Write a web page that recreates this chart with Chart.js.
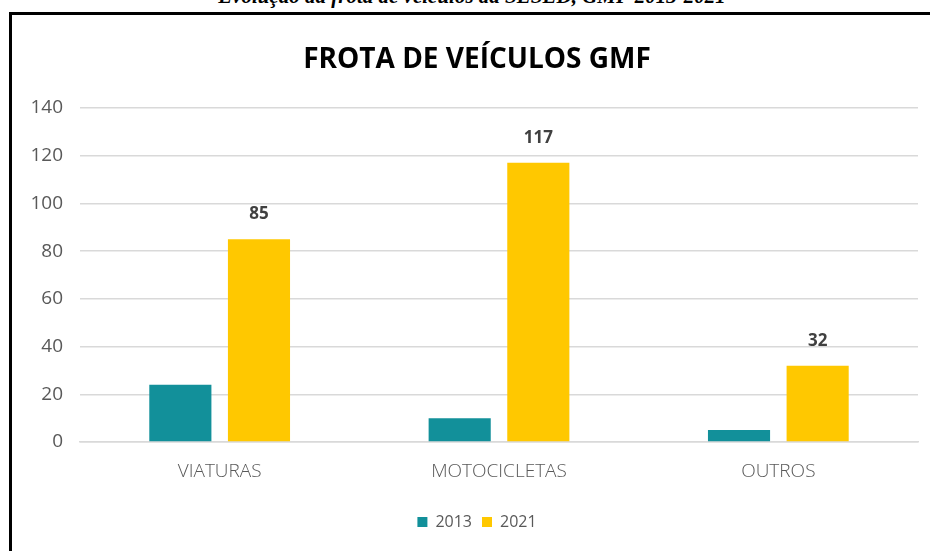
<!DOCTYPE html>
<html>
<head>
<meta charset="utf-8">
<script src="https://cdn.jsdelivr.net/npm/chart.js@4.4.1/dist/chart.umd.min.js"></script>
<style>
  html, body { margin: 0; padding: 0; background: #ffffff; width: 930px; height: 551px; overflow: hidden; }
  #caption { position: absolute; left: 0; width: 944px; top: -16px; text-align: center;
    font-family: "Liberation Serif", "DejaVu Serif", serif; font-weight: bold; font-style: italic;
    font-size: 21px; color: #000; line-height: 24px; white-space: nowrap; }
  #frame { position: absolute; left: 9px; top: 12px; width: 940px; height: 560px;
    border-top: 3px solid #000; border-left: 3px solid #000; box-sizing: border-box; }
  #wrap { position: absolute; left: 0; top: 0; width: 930px; height: 551px; }
</style>
</head>
<body>
<div id="caption">Evolução da frota de veículos da SESED, GMF 2013-2021</div>
<div id="frame"></div>
<div id="wrap"><canvas id="c" width="930" height="551"></canvas></div>
<script>
const chartTitle = "FROTA DE VEÍCULOS GMF";
const categories = ["VIATURAS", "MOTOCICLETAS", "OUTROS"];
const seriesNames = ["2013", "2021"];
const values2013 = [24, 10, 5];
const values2021 = [85, 117, 32];
const yTicks = [0, 20, 40, 60, 80, 100, 120, 140];
const labeledSeries = [false, true];

const TEAL = "#12909A";
const GOLD = "#FFC800";

const valueLabels = {
  id: "valueLabels",
  afterDatasetsDraw(chart) {
    const ctx = chart.ctx;
    ctx.save();
    ctx.font = "bold 17px 'Open Sans', sans-serif";
    ctx.fillStyle = "#404040";
    ctx.textAlign = "center";
    ctx.textBaseline = "middle";
    chart.data.datasets.forEach((ds, i) => {
      if (!labeledSeries[i]) return;
      const meta = chart.getDatasetMeta(i);
      meta.data.forEach((bar, j) => {
        ctx.fillText(String(ds.data[j]), bar.x, bar.y - 25);
      });
    });
    ctx.restore();
  }
};

new Chart(document.getElementById("c"), {
  type: "bar",
  data: {
    labels: categories,
    datasets: [
      { label: seriesNames[0], data: values2013, backgroundColor: TEAL, borderWidth: 0,
        barPercentage: 0.79, categoryPercentage: 0.563 },
      { label: seriesNames[1], data: values2021, backgroundColor: GOLD, borderWidth: 0,
        barPercentage: 0.79, categoryPercentage: 0.563 }
    ]
  },
  options: {
    responsive: false,
    animation: false,
    devicePixelRatio: 1,
    layout: { padding: { left: 36, right: 12, top: 0, bottom: 11 } },
    plugins: {
      title: {
        display: true,
        text: chartTitle,
        color: "#000000",
        font: { family: "'Open Sans', sans-serif", size: 28, weight: "bold", lineHeight: 1.2 },
        padding: { top: 43, bottom: 31.4 }
      },
      legend: {
        display: true,
        position: "bottom",
        labels: {
          boxWidth: 10, boxHeight: 10, padding: 10,
          color: "#595959",
          font: { family: "'Open Sans', sans-serif", size: 16 }
        }
      },
      tooltip: { enabled: false }
    },
    scales: {
      x: {
        grid: { display: false, drawTicks: false },
        border: { display: true, color: "#d9d9d9", width: 1.5 },
        ticks: { color: "#595959", font: { family: "'Open Sans', sans-serif", size: 19, weight: "300" }, padding: 18 },
        afterFit(scale) { scale.height = 62; }
      },
      y: {
        min: 0, max: 140,
        afterBuildTicks(scale) { scale.ticks = yTicks.map(v => ({ value: v })); },
        grid: { color: "#d9d9d9", lineWidth: 1.5, drawTicks: false },
        border: { display: false },
        ticks: { color: "#595959", font: { family: "'Open Sans', sans-serif", size: 19 }, padding: 17 },
        afterFit(scale) {
          scale.width = 44;
          scale._computeLabelArea = function () { return undefined; };
        }
      }
    }
  },
  plugins: [valueLabels]
});
</script>
</body>
</html>
